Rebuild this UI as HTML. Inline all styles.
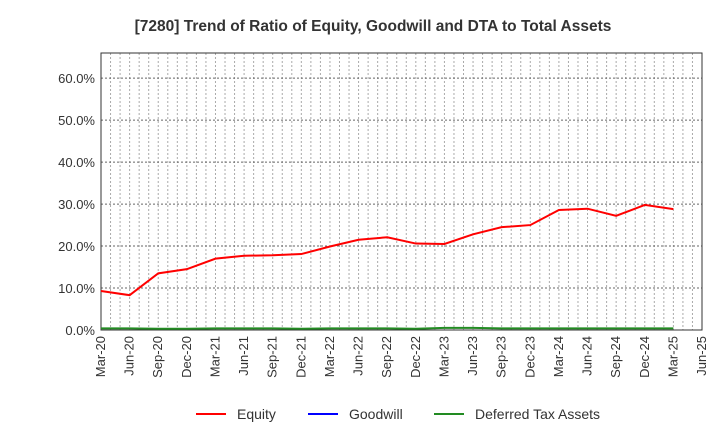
<!DOCTYPE html>
<html><head><meta charset="utf-8"><style>
body{margin:0;background:#fff;font-family:"Liberation Sans",sans-serif}
svg text{font-family:"Liberation Sans",sans-serif}
</style></head><body>
<svg id="c" width="720" height="440" xmlns="http://www.w3.org/2000/svg">
<text x="373" y="31" text-anchor="middle" font-size="15.5" font-weight="bold" fill="#333">[7280]  Trend of Ratio of Equity, Goodwill and DTA to Total Assets</text>
<g id="grid"></g><g id="axes"></g><g id="series"></g>
<g>
<line x1="196" y1="414" x2="226" y2="414" stroke="#f00" stroke-width="2"/>
<text x="237" y="419" font-size="14" fill="#333">Equity</text>
<line x1="308" y1="414" x2="338" y2="414" stroke="#00f" stroke-width="2"/>
<text x="349" y="419" font-size="14" fill="#333">Goodwill</text>
<line x1="434" y1="414" x2="464" y2="414" stroke="#228b22" stroke-width="2"/>
<text x="475" y="419" font-size="14" fill="#333">Deferred Tax Assets</text>
</g>
</svg>
<script>
const categories=["Mar-20","Jun-20","Sep-20","Dec-20","Mar-21","Jun-21","Sep-21","Dec-21","Mar-22","Jun-22","Sep-22","Dec-22","Mar-23","Jun-23","Sep-23","Dec-23","Mar-24","Jun-24","Sep-24","Dec-24","Mar-25","Jun-25"];
const equity=[9.3,8.3,13.5,14.5,17.0,17.7,17.8,18.1,19.9,21.5,22.1,20.6,20.5,22.8,24.5,25.0,28.6,28.9,27.2,29.8,28.8];
const goodwill=[null,null,null,null,null,null,null,null,null,null,null,null,null,null,null,null,null,null,null,null,null];
const dta=[0.4,0.4,0.3,0.3,0.4,0.4,0.4,0.3,0.4,0.4,0.4,0.3,0.5,0.5,0.4,0.4,0.4,0.4,0.4,0.4,0.4];
const yTicks=[0,10,20,30,40,50,60];
const L=101,R=702,T=53,B=330,yMax=66;
const ns="http://www.w3.org/2000/svg";
const xs=i=>L+(R-L)*i/(categories.length-1);
const ys=v=>B-(B-T)*v/yMax;
function mk(tag,attrs,parent){const e=document.createElementNS(ns,tag);for(const k in attrs)e.setAttribute(k,attrs[k]);document.getElementById(parent).appendChild(e);return e;}
const months=(categories.length-1)*3;
for(let m=1;m<=months;m++){const x=L+(R-L)*m/months;
 const g=mk('line',{x1:x,x2:x,y1:T,y2:B,stroke:'#aaa','stroke-dasharray':'2,2','stroke-width':1},'grid');
 
 }
yTicks.forEach(v=>{const y=ys(v);
 if(v>0){const g=mk('line',{x1:L,x2:R,y1:y,y2:y,stroke:'#666','stroke-dasharray':'2,2','stroke-width':1},'grid');
 
 }
 const t=mk('text',{x:L-6,y:y+5,'text-anchor':'end','font-size':13,fill:'#333'},'axes');t.textContent=v.toFixed(1)+'%';
 
 });
const fr=mk('rect',{x:L,y:T,width:R-L,height:B-T,fill:'none',stroke:'#333','stroke-width':1},'axes');


categories.forEach((c,i)=>{const x=xs(i);
 const t=mk('text',{x:x+4,y:B+6,'text-anchor':'end','font-size':13,fill:'#333',transform:`rotate(-90 ${x+4} ${B+6})`},'axes');t.textContent=c;
 
 });
function line(arr,color,name){const pts=[];arr.forEach((v,i)=>{if(v!==null)pts.push(xs(i)+','+ys(v));});
 if(pts.length<2)return;
 const e=mk('polyline',{points:pts.join(' '),fill:'none',stroke:color,'stroke-width':2},'series');
 
 }
line(goodwill,'#00f','goodwill-line');
line(dta,'#228b22','dta-line');
line(equity,'#f00','equity-line');
</script>
</body></html>
